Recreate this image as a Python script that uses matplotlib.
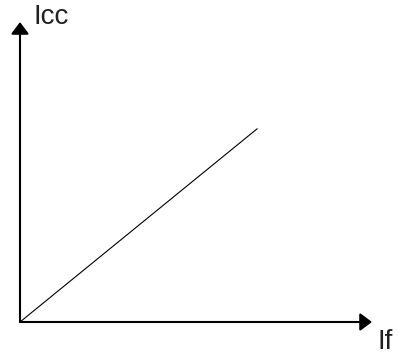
import matplotlib
matplotlib.use("Agg")
import matplotlib.pyplot as plt

# field current vs short-circuit current (linear characteristic)
if_values = [0.0, 10.0]
icc_values = [0.0, 8.15]
x_label = "If"
y_label = "Icc"

W, H = 398, 360
fig = plt.figure(figsize=(W / 100, H / 100), dpi=100)
ax = fig.add_axes([20 / W, 38 / H, 352 / W, 300 / H])
ax.set_xlim(0, 14.85)
ax.set_ylim(0, 12.66)
ax.axis("off")

ax.plot(if_values, icc_values, color="black", lw=0.8, clip_on=False)

arrow = dict(arrowstyle="-|>,head_length=0.4,head_width=0.3", mutation_scale=18,
             color="black", lw=1.5, shrinkA=0, shrinkB=0)
ax.annotate("", xy=(1, 0), xytext=(0, 0), xycoords="axes fraction", arrowprops=arrow)
ax.annotate("", xy=(0, 1), xytext=(0, 0), xycoords="axes fraction", arrowprops=arrow)

font = dict(family=["Liberation Sans", "DejaVu Sans"], fontsize=20, color="#222222")
fig.text(33 / W, 1 - 17 / H, y_label, ha="left", va="center", **font)
fig.text(378 / W, 1 - 342 / H, x_label, ha="left", va="center", **font)

fig.savefig("out.png", dpi=100)
